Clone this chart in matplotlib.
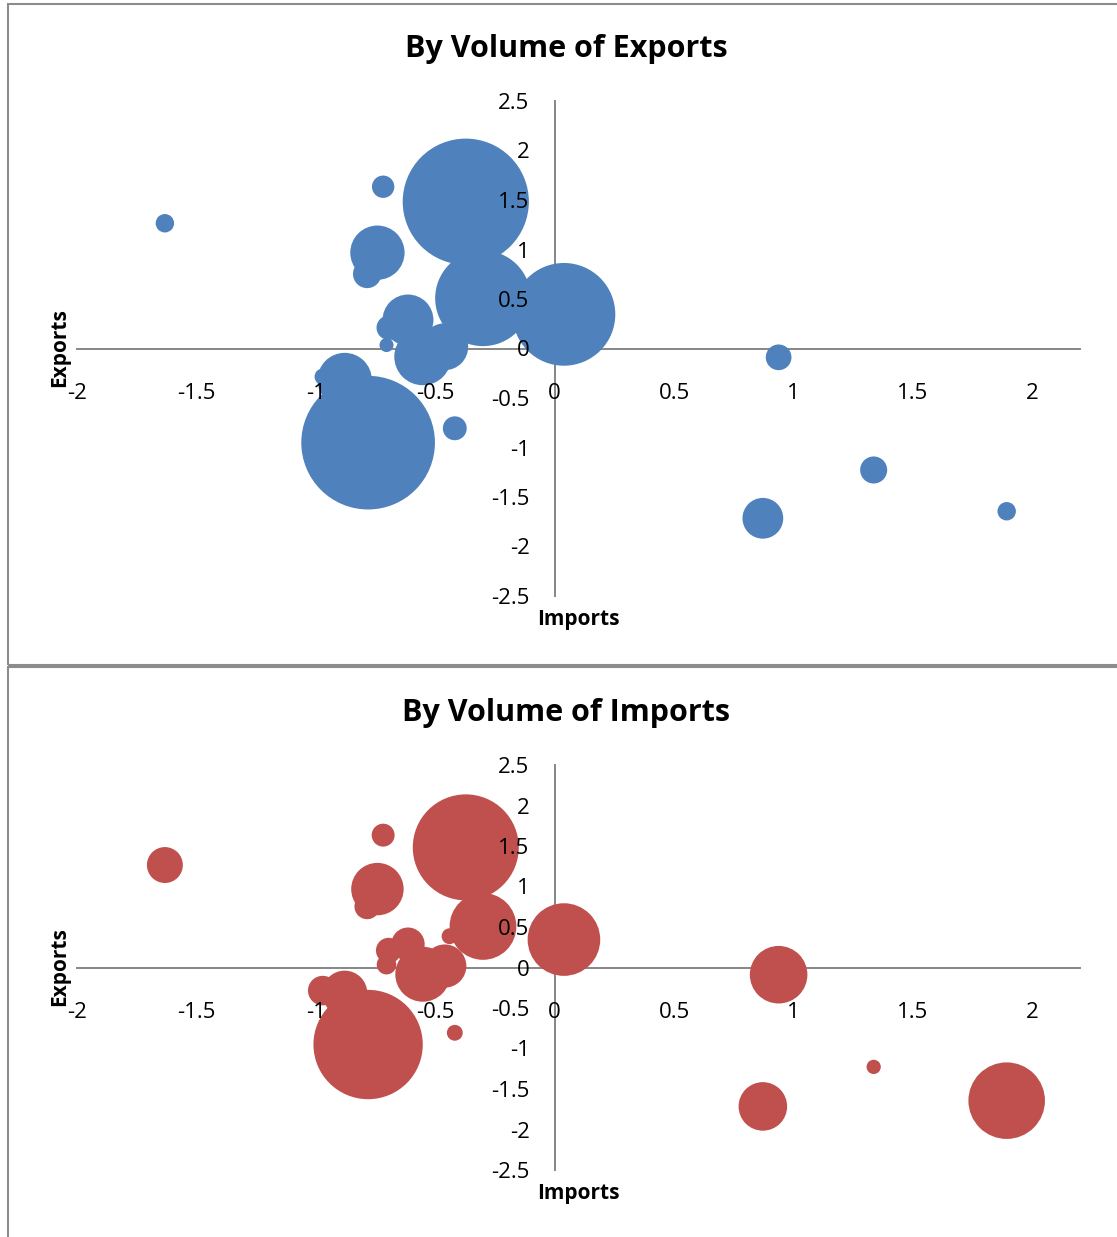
#!/usr/bin/env python3
"""
Two bubble charts: trade position (imports vs exports), bubbles sized by
export volume (top) and by import volume (bottom).
Outputs out.png.
"""

import matplotlib
matplotlib.use('Agg')
import matplotlib.pyplot as plt
from matplotlib.patches import Rectangle
import numpy as np

plt.rcParams['font.family'] = ['Open Sans', 'DejaVu Sans']

# ── data ────────────────────────────────────────────────────────────────────
imports = [-1.632, -0.718, -0.372, -0.742, -0.785, -0.300, 0.039, -0.614,
           -0.695, -0.704, -0.552, -0.460, -0.879, -0.971, -0.781, -0.418,
           0.938, 1.336, 0.872, 1.893, -0.440]
exports = [1.265, 1.634, 1.483, 0.968, 0.753, 0.507, 0.345, 0.288,
           0.210, 0.035, -0.083, 0.018, -0.318, -0.285, -0.951, -0.806,
           -0.089, -1.227, -1.715, -1.644, 0.386]
export_volume = [1.9, 2.8, 89.1, 16.5, 4.5, 51.2, 59.1, 14.5,
                 3.3, 1.1, 18.2, 12.3, 16.5, 1.5, 100.0, 3.2,
                 3.7, 4.1, 9.3, 1.9, 0.8]
import_volume = [10.8, 4.4, 94.0, 23.0, 5.4, 37.3, 44.1, 9.3,
                 5.4, 3.2, 25.3, 15.6, 17.1, 7.3, 100.0, 2.1,
                 27.7, 1.7, 19.7, 49.0, 2.1]

x_ticks = [-2, -1.5, -1, -0.5, 0, 0.5, 1, 1.5, 2]
x_tick_labels = ['-2', '-1.5', '-1', '-0.5', '0', '0.5', '1', '1.5', '2']
y_ticks = [-2.5, -2, -1.5, -1, -0.5, 0, 0.5, 1, 1.5, 2, 2.5]
y_tick_labels = ['-2.5', '-2', '-1.5', '-1', '-0.5', '0', '0.5', '1', '1.5', '2', '2.5']

BLUE = '#4F81BD'
RED = '#C0504D'
AXIS_GRAY = '#868686'

W, H = 1117, 1237
DPI = 100


def fx(px):
    return px / W


def fy(py):
    return 1 - py / H


def bubble_panel(fig, rect, volumes, color, title, title_y, label_y, exp_label_y):
    ax = fig.add_axes(rect)
    ax.set_xlim(-2, 2.2)
    ax.set_ylim(-2.5, 2.5)

    # largest bubble radius ~13.5% of plot height (Excel default scaling)
    h_pt = rect[3] * H * 72 / DPI
    r_max = 0.135 * h_pt
    sizes = (2 * r_max) ** 2 * np.array(volumes) / max(volumes)
    ax.scatter(imports, exports, s=sizes, color=color, edgecolors='none', zorder=1)

    for side in ('top', 'right'):
        ax.spines[side].set_visible(False)
    for side in ('left', 'bottom'):
        ax.spines[side].set_position('zero')
        ax.spines[side].set_color(AXIS_GRAY)
        ax.spines[side].set_linewidth(1.4)
        ax.spines[side].set_zorder(0.5)

    ax.set_xticks(x_ticks)
    ax.set_xticklabels(x_tick_labels)
    ax.set_yticks(y_ticks)
    ax.set_yticklabels(y_tick_labels)
    ax.tick_params(axis='x', length=0, pad=24.5, labelsize=16)
    ax.tick_params(axis='y', length=0, pad=18, labelsize=16)
    ax.patch.set_visible(False)

    fig.text(fx(566), fy(title_y), title, ha='center', va='center',
             fontsize=22, fontweight='bold')
    fig.text(fx(578), fy(label_y), 'Imports', ha='center', va='center',
             fontsize=15, fontweight='bold')
    fig.text(fx(60), fy(exp_label_y), 'Exports', ha='center', va='center',
             fontsize=15, fontweight='bold', rotation=90)
    return ax


def main():
    fig = plt.figure(figsize=(W / DPI, H / DPI), dpi=DPI)
    fig.patch.set_facecolor('white')

    # chart frames
    fig.add_artist(Rectangle((fx(7.5), fy(665)), 1.0, fy(3.5) - fy(665),
                             transform=fig.transFigure, fill=False,
                             edgecolor='#8c8c8c', linewidth=1.5))
    fig.add_artist(Rectangle((fx(7.5), fy(1240)), 1.0, fy(667) - fy(1240),
                             transform=fig.transFigure, fill=False,
                             edgecolor='#8c8c8c', linewidth=1.5))

    # ── top: by export volume ──────────────────────────────────────────────
    bubble_panel(fig, [fx(77), fy(596), fx(1080) - fx(77), (596 - 101) / H],
                 export_volume, BLUE, 'By Volume of Exports', 48.5, 619, 348)

    # ── bottom: by import volume ───────────────────────────────────────────
    bubble_panel(fig, [fx(77), fy(1170), fx(1080) - fx(77), (1170 - 765) / H],
                 import_volume, RED, 'By Volume of Imports', 712.5, 1193, 967)

    fig.savefig('out.png', dpi=DPI, facecolor=fig.get_facecolor())
    plt.close(fig)


if __name__ == "__main__":
    main()
